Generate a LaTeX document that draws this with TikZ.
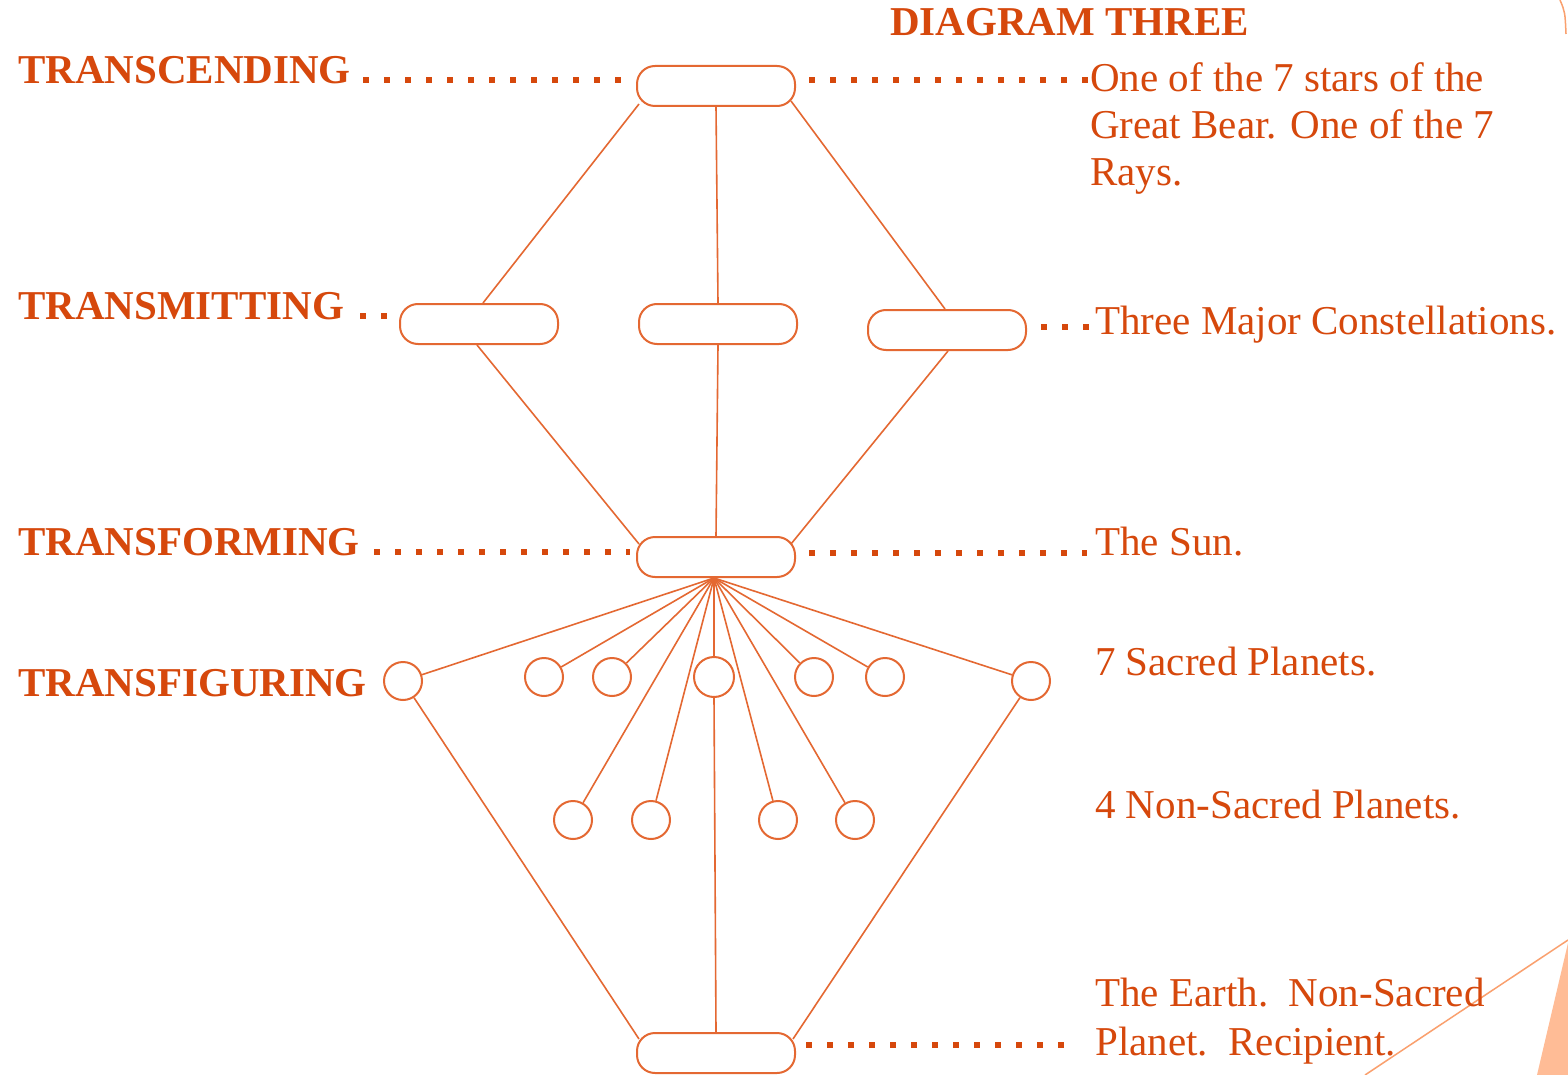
\documentclass[tikz,border=0pt]{standalone}
\usepackage{fontspec}
\setmainfont{Liberation Serif}
\definecolor{txt}{RGB}{214,72,12}
\definecolor{ln}{RGB}{228,104,50}
\definecolor{deco}{RGB}{250,160,110}
\definecolor{decofill}{RGB}{255,188,150}
\tikzset{
  oval/.style={draw=ln, line width=2pt, rounded corners=18pt, minimum width=158pt, minimum height=40pt, inner sep=0pt},
  planet/.style={draw=ln, line width=2pt, circle, minimum size=38pt, inner sep=0pt},
  conn/.style={draw=ln, line width=1.6pt},
  leader/.style={draw=txt, line width=6pt, dash pattern=on 6pt off 15pt},
  lbl/.style={text=txt, font=\fontsize{41}{47}\selectfont\bfseries, inner sep=0pt, anchor=base west},
  desc/.style={text=txt, font=\fontsize{41}{47}\selectfont, inner sep=0pt, anchor=base west},
}
\begin{document}
\begin{tikzpicture}[x=1pt,y=-1pt]
\fill[white] (0,0) rectangle (1568,1075);
\useasboundingbox (0,0) rectangle (1568,1075);
% decorations
\fill[decofill] (1537,1075) -- (1568,943) -- (1568,1075) -- cycle;
\draw[deco, line width=1.5pt] (1365,1075) -- (1568,940);
\draw[deco, line width=1.5pt] (1560,0) .. controls (1565,12) .. (1566,34);
% title
\node[lbl] (title) at (890,36) {DIAGRAM THREE};
% left labels
\node[lbl] (L1) at (18,84) {TRANSCENDING};
\node[lbl] (L2) at (18,319) {TRANSMITTING};
\node[lbl] (L3) at (18,555) {TRANSFORMING};
\node[lbl] (L4) at (18,696) {TRANSFIGURING};
% right descriptions
\node[desc] (R1a) at (1090,92) {One of the 7 stars of the};
\node[desc] (R1b) at (1090,139) {Great Bear. One of the 7};
\node[desc] (R1c) at (1090,186) {Rays.};
\node[desc] (R2) at (1095,334) {Three Major Constellations.};
\node[desc] (R3) at (1095,555) {The Sun.};
\node[desc] (R4) at (1095,675) {7 Sacred Planets.};
\node[desc] (R5) at (1095,818) {4 Non-Sacred Planets.};
\node[desc] (R6a) at (1095,1006) {The Earth.\ \ Non-Sacred};
\node[desc] (R6b) at (1095,1055) {Planet.\ \ Recipient.};
% ovals
\node[oval] (T1) at (716,86) {};
\node[oval] (M1) at (479,324) {};
\node[oval] (M2) at (718,324) {};
\node[oval] (M3) at (947,330) {};
\node[oval] (S) at (716,557) {};
\node[oval] (E) at (716,1053) {};
% planets
\node[planet] (P1) at (403,681) {};
\node[planet] (P2) at (544,677) {};
\node[planet] (P3) at (612,677) {};
\node[planet, minimum size=40pt] (P4) at (714,677) {};
\node[planet] (P5) at (814,677) {};
\node[planet] (P6) at (885,677) {};
\node[planet] (P7) at (1031,681) {};
\node[planet] (Q1) at (573,820) {};
\node[planet] (Q2) at (651,820) {};
\node[planet] (Q3) at (778,820) {};
\node[planet] (Q4) at (855,820) {};
% connectors top
\draw[conn] ([xshift=3pt,yshift=3pt]T1.south west) -- ([xshift=4pt]M1.north);
\draw[conn] (T1.south) -- (M2.north);
\draw[conn] ([xshift=-5pt,yshift=6pt]T1.south east) -- ([xshift=-2pt]M3.north);
\draw[conn] ([xshift=-2pt]M1.south) -- ([xshift=3pt,yshift=-8pt]S.north west);
\draw[conn] (M2.south) -- (S.north);
\draw[conn] ([xshift=1pt]M3.south) -- ([xshift=-5pt,yshift=-8pt]S.north east);
% sun to planets
\coordinate (hub) at ([xshift=-2pt]S.south);
\foreach \p in {P1,P2,P3,P4,P5,P6,P7,Q1,Q2,Q3,Q4}
  \draw[conn] (hub) -- (\p);
% planets to earth
\draw[conn] (P4.south) -- (E.north);
\draw[conn] (P1) -- ([xshift=3pt,yshift=-7pt]E.north west);
\draw[conn] (P7) -- ([xshift=-3pt,yshift=-7pt]E.north east);
% leaders
\draw[leader] ([xshift=12pt,yshift=4pt]L1.base east) -- ([xshift=-14pt,yshift=6pt]T1.west);
\draw[leader] ([xshift=13pt,yshift=6pt]T1.east) -- ([xshift=-2pt,yshift=12pt]R1a.base west);
\draw[leader] ([xshift=16pt,yshift=3pt]L2.base east) -- ([xshift=-10pt,yshift=8pt]M1.west);
\draw[leader] ([xshift=14pt,yshift=3pt]M3.east) -- ([xshift=-6pt,yshift=7pt]R2.base west);
\draw[leader] ([xshift=14pt,yshift=3pt]L3.base east) -- ([xshift=-6pt,yshift=5pt]S.west);
\draw[leader] ([xshift=13pt,yshift=4pt]S.east) -- ([xshift=-8pt,yshift=2pt]R3.base west);
\draw[leader] ([xshift=10pt,yshift=8pt]E.east) -- ([xshift=-18pt,yshift=10pt]R6b.base west);
\end{tikzpicture}
\end{document}
